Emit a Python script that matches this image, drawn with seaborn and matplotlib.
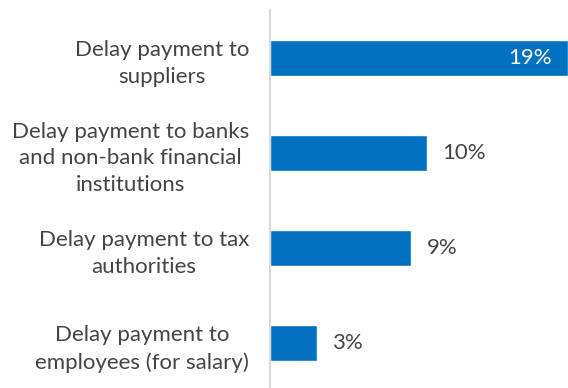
import matplotlib
matplotlib.use("Agg")
import matplotlib.pyplot as plt
import seaborn as sns
import pandas as pd

categories = [
    "Delay payment to\nsuppliers",
    "Delay payment to banks\nand non-bank financial\ninstitutions",
    "Delay payment to tax\nauthorities",
    "Delay payment to\nemployees (for salary)",
]
shares = [19, 10, 9, 3]
value_labels = ["19%", "10%", "9%", "3%"]

df = pd.DataFrame({"category": categories, "share": shares})

sns.set_theme(style="white")
plt.rcParams["font.family"] = ["Lato", "DejaVu Sans"]

fig = plt.figure(figsize=(5.68, 3.88), dpi=100)
ax = fig.add_axes([270 / 568, 0.0, 298 / 568, 1 - 10 / 388])

sns.barplot(data=df, x="share", y="category", orient="h", color="#0070C0",
            width=0.38, saturation=1, ax=ax)

ax.set_xlim(0, 19)
ax.set_ylim(3.47, -0.505)
ax.set_xlabel("")
ax.set_ylabel("")
ax.set_xticks([])

for side in ["top", "right", "bottom"]:
    ax.spines[side].set_visible(False)
ax.spines["left"].set_color("#d9d9d9")
ax.spines["left"].set_linewidth(1.5)

ax.tick_params(axis="y", length=0, pad=15)
for lbl in ax.get_yticklabels():
    lbl.set_fontsize(16)
    lbl.set_color("#444444")
    lbl.set_multialignment("center")
    lbl.set_linespacing(1.42)

for i, (v, txt) in enumerate(zip(shares, value_labels)):
    if v == max(shares):
        ax.annotate(txt, (v, i), xytext=(-12, 0), textcoords="offset points",
                    ha="right", va="center", color="white", fontsize=16)
    else:
        ax.annotate(txt, (v, i), xytext=(11, 0), textcoords="offset points",
                    ha="left", va="center", color="#444444", fontsize=16)

fig.savefig("out.png", dpi=100)
